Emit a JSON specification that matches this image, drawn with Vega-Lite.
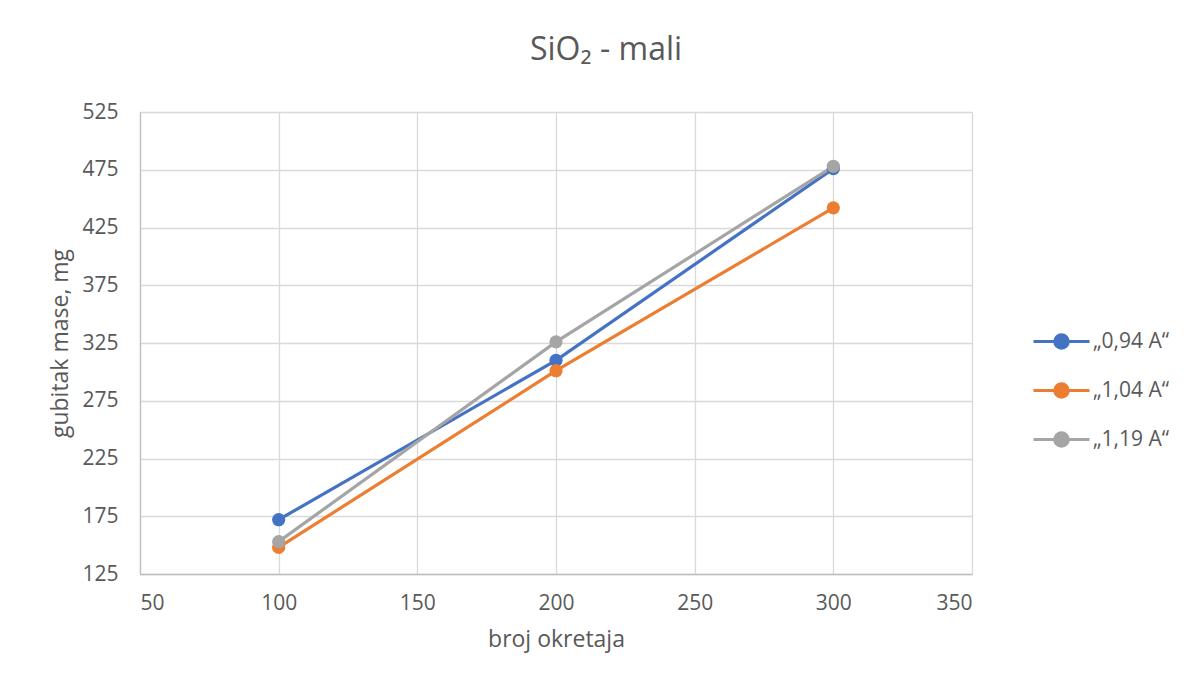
{
  "$schema": "https://vega.github.io/schema/vega-lite/v6.json",
  "width": 832,
  "height": 462,
  "autosize": {"type": "none"},
  "padding": {"left": 140, "top": 112, "right": 217, "bottom": 110},
  "background": "white",
  "title": {
    "text": "SiO₂ - mali",
    "font": "Open Sans",
    "fontSize": 32,
    "fontWeight": "normal",
    "color": "#595959",
    "anchor": "middle",
    "dx": 50,
    "offset": 34
  },
  "data": {
    "values": [
      {"series": "„0,94 A“", "okretaji": 100, "gubitak": 172},
      {"series": "„0,94 A“", "okretaji": 200, "gubitak": 310},
      {"series": "„0,94 A“", "okretaji": 300, "gubitak": 476},
      {"series": "„1,04 A“", "okretaji": 100, "gubitak": 148},
      {"series": "„1,04 A“", "okretaji": 200, "gubitak": 301},
      {"series": "„1,04 A“", "okretaji": 300, "gubitak": 442},
      {"series": "„1,19 A“", "okretaji": 100, "gubitak": 153},
      {"series": "„1,19 A“", "okretaji": 200, "gubitak": 326},
      {"series": "„1,19 A“", "okretaji": 300, "gubitak": 478}
    ]
  },
  "encoding": {
    "x": {
      "field": "okretaji",
      "type": "quantitative",
      "scale": {"domain": [50, 350], "nice": false, "zero": false},
      "axis": {
        "title": "broj okretaja",
        "values": [50, 100, 150, 200, 250, 300, 350],
        "ticks": false,
        "labelPadding": 18,
        "titlePadding": 15,
        "gridColor": "#d9d9d9",
        "domainColor": "#bfbfbf"
      }
    },
    "y": {
      "field": "gubitak",
      "type": "quantitative",
      "scale": {"domain": [125, 525], "nice": false, "zero": false},
      "axis": {
        "title": "gubitak mase, mg",
        "values": [125, 175, 225, 275, 325, 375, 425, 475, 525],
        "ticks": false,
        "labelPadding": 22,
        "titlePadding": 9,
        "gridColor": "#d9d9d9",
        "domainColor": "#bfbfbf"
      }
    },
    "color": {
      "field": "series",
      "type": "nominal",
      "scale": {"range": ["#4472C4", "#ED7D31", "#A5A5A5"]},
      "legend": {
        "title": null,
        "orient": "none",
        "legendX": 911,
        "legendY": 219,
        "padding": 0,
        "symbolType": "M -4 0 L 4 0 M 0.97 0 A 0.97 0.97 0 1 1 -0.97 0 A 0.97 0.97 0 1 1 0.97 0 Z",
        "symbolSize": 196,
        "symbolStrokeWidth": 3,
        "labelOffset": 21,
        "rowPadding": 22,
        "labelFont": "Open Sans",
        "labelFontSize": 21,
        "labelColor": "#595959",
        "encode": {
          "symbols": {
            "update": {
              "fill": {"scale": "color", "field": "value"},
              "stroke": {"scale": "color", "field": "value"},
              "opacity": {"value": 1}
            }
          }
        }
      }
    }
  },
  "layer": [
    {"mark": {"type": "line", "strokeWidth": 3.2}},
    {"mark": {"type": "point", "filled": true, "size": 175, "opacity": 1}}
  ],
  "config": {
    "view": {"stroke": null},
    "axis": {
      "labelFont": "Open Sans",
      "labelFontSize": 21,
      "labelColor": "#595959",
      "titleFont": "Open Sans",
      "titleFontSize": 23,
      "titleFontWeight": "normal",
      "titleColor": "#595959",
      "gridWidth": 1.3,
      "domainWidth": 1.3
    }
  }
}
